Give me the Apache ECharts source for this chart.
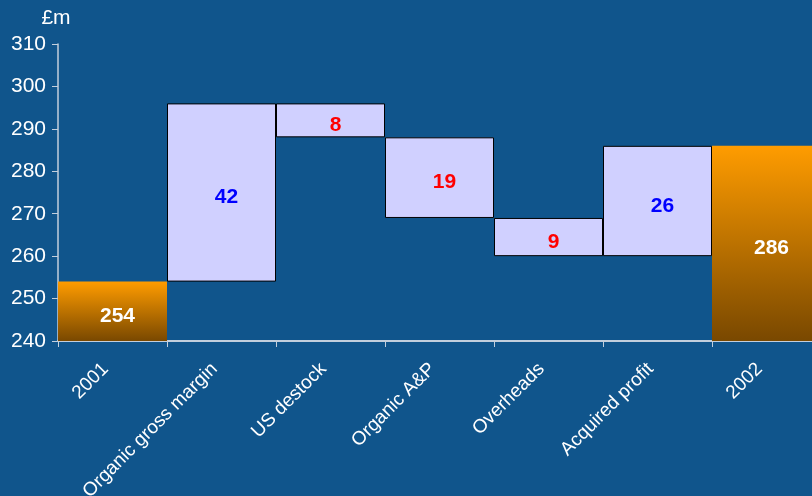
<!DOCTYPE html>
<html><head><meta charset="utf-8">
<script src="https://cdn.jsdelivr.net/npm/echarts@6/dist/echarts.min.js"></script>
<style>html,body{margin:0;padding:0;background:#10558c;overflow:hidden;width:812px;height:496px;}#c{width:821px;height:496px;}</style>
</head><body><div id="c"></div>
<script>
const categories = ['2001','Organic gross margin','US destock','Organic A&P','Overheads','Acquired profit','2002'];
const displayValues = [254, 42, 8, 19, 9, 26, 286];
const lowValues = [240, 254, 288, 269, 260, 260, 240];
const highValues = [254, 296, 296, 288, 269, 286, 286];
const kinds = ['total','up','down','down','down','up','total'];
const yTicks = [240, 310, 10];

const chart = echarts.init(document.getElementById('c'));
const orange = new echarts.graphic.LinearGradient(0,0,0,1,[{offset:0,color:'#ff9c00'},{offset:1,color:'#794800'}]);
const labelColor = {total:'#ffffff', up:'#0000ff', down:'#ff0000'};
const base = yTicks[0];
chart.setOption({
  backgroundColor:'#10558c',
  textStyle:{fontFamily:'Liberation Sans, Arial, sans-serif'},
  grid:{left:58, top:44, right:0, bottom:155, containLabel:false, outerBoundsMode:'none'},
  xAxis:{type:'category', data:categories, boundaryGap:true,
    axisLine:{lineStyle:{color:'#c3cfdd', width:2}},
    axisTick:{show:true, length:6, lineStyle:{color:'#c3cfdd', width:1}},
    axisLabel:{rotate:45, color:'#ffffff', fontSize:19, margin:18, padding:[0,10,0,0], interval:0}},
  yAxis:{type:'value', min:0, max:yTicks[1]-base, interval:yTicks[2],
    name:'£m', nameLocation:'end', nameGap:15, nameTextStyle:{color:'#ffffff', fontSize:21, align:'center', padding:[0,0,0,-4]},
    splitLine:{show:false},
    axisLine:{show:true, lineStyle:{color:'#c3cfdd', width:1.5}},
    axisTick:{show:true, length:6, lineStyle:{color:'#c3cfdd'}},
    axisLabel:{color:'#ffffff', fontSize:21, margin:12, formatter:v=>v+base}},
  series:[
    {type:'bar', stack:'w', data:lowValues.map(v=>v-base), itemStyle:{color:'transparent'}, barCategoryGap:'0%', silent:true},
    {type:'bar', stack:'w', barCategoryGap:'0%',
      data:highValues.map((h,i)=>({value:h-lowValues[i],
        itemStyle: kinds[i]==='total' ? {color:orange, borderWidth:0} : {color:'#d0d0ff', borderColor:'#000000', borderWidth:1},
        label:{color:labelColor[kinds[i]]}})),
      label:{show:true, position:'inside', offset:[5,5], fontSize:21, fontWeight:'bold', formatter:p=>displayValues[p.dataIndex]}}
  ]
});
</script></body></html>
